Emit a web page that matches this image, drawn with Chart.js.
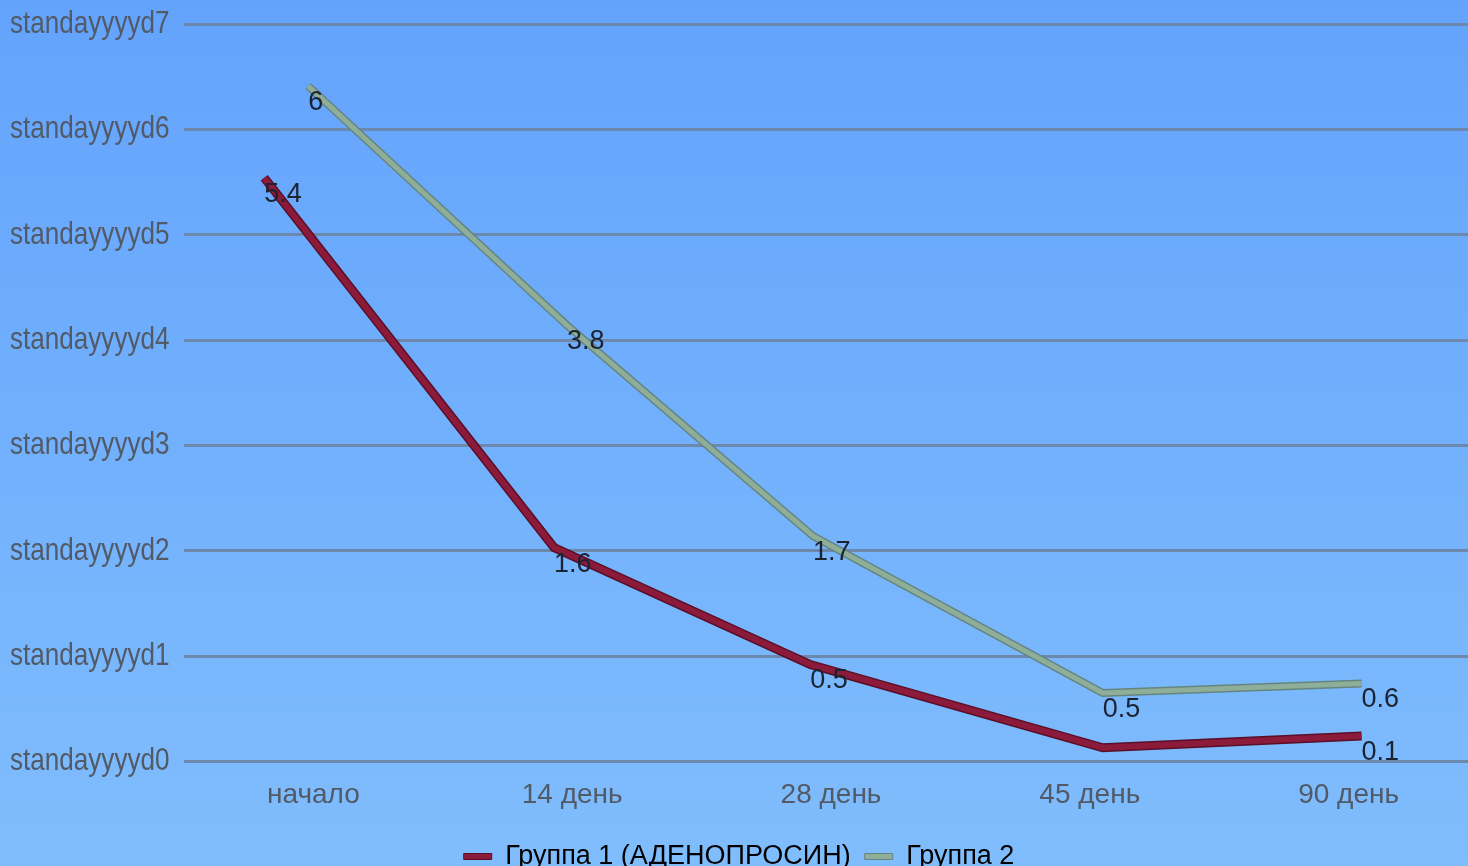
<!DOCTYPE html>
<html>
<head>
<meta charset="utf-8">
<script src="https://cdn.jsdelivr.net/npm/chart.js@4/dist/chart.umd.min.js"></script>
<style>
  html, body { margin: 0; padding: 0; overflow: hidden; background: #70b0fc; }
  #wrap { width: 1478px; height: 880px; position: relative; }
</style>
</head>
<body>
<div id="wrap"><canvas id="c" width="1478" height="880"></canvas></div>
<script>
// ---- data ----
const categories = ['начало', '14 день', '28 день', '45 день', '90 день'];
const seriesNames = ['Группа 1 (АДЕНОПРОСИН)', 'Группа 2'];
// x position of each point in category units (as drawn in the picture)
const group1X = [-0.19, 0.93, 1.92, 3.05, 4.05];
const group2X = [-0.02, 0.98, 1.93, 3.05, 4.05];
// plotted heights, as drawn
const group1Values = [5.54, 2.03, 0.92, 0.13, 0.24];
const group2Values = [6.41, 4.14, 2.14, 0.65, 0.74];
// printed data labels (the 45-day label of group 1 is not shown)
const group1Labels = ['5.4', '1.6', '0.5', '', '0.1'];
const group2Labels = ['6', '3.8', '1.7', '0.5', '0.6'];
const yTickValues = [0, 1, 2, 3, 4, 5, 6, 7];
const yTickPrefix = 'standayyyyd';

const SANS = '"Liberation Sans", Arial, sans-serif';
const outlineColors = ['#5a0f26', '#66857f'];
const outlineWidths = [9, 8];

const bgPlugin = {
  id: 'bg',
  beforeDraw(chart) {
    const ctx = chart.ctx;
    const g = ctx.createLinearGradient(0, 0, 0, 866);
    g.addColorStop(0, '#63a3fc');
    g.addColorStop(1, '#80bdfd');
    ctx.save();
    ctx.fillStyle = g;
    ctx.fillRect(0, 0, chart.width, chart.height);
    ctx.restore();
  }
};

// dark outline under each line, following the library's point elements
const outlinePlugin = {
  id: 'outline',
  beforeDatasetDraw(chart, args) {
    const meta = args.meta;
    const i = args.index;
    const ctx = chart.ctx;
    ctx.save();
    ctx.strokeStyle = outlineColors[i];
    ctx.lineWidth = outlineWidths[i];
    ctx.lineJoin = 'miter';
    ctx.lineCap = 'butt';
    ctx.beginPath();
    meta.data.forEach((pt, k) => { if (k === 0) ctx.moveTo(pt.x, pt.y); else ctx.lineTo(pt.x, pt.y); });
    ctx.stroke();
    ctx.restore();
  }
};

// condensed y-axis tick labels (the picture uses a narrow face)
const yLabelPlugin = {
  id: 'yLabels',
  afterDraw(chart) {
    const ctx = chart.ctx;
    const ys = chart.scales.y;
    ctx.save();
    ctx.font = '32px ' + SANS;
    ctx.fillStyle = '#515a66';
    ctx.textAlign = 'left';
    ctx.textBaseline = 'middle';
    yTickValues.forEach(v => {
      const py = ys.getPixelForValue(v);
      ctx.save();
      ctx.translate(10, py);
      ctx.scale(0.815, 1);
      ctx.fillText(yTickPrefix + v, 0, 0);
      ctx.restore();
    });
    ctx.restore();
  }
};

const labelPlugin = {
  id: 'dataLabels',
  afterDatasetsDraw(chart) {
    const ctx = chart.ctx;
    const allLabels = [group1Labels, group2Labels];
    ctx.save();
    ctx.font = '27px ' + SANS;
    ctx.fillStyle = '#1c2330';
    ctx.textAlign = 'left';
    ctx.textBaseline = 'top';
    chart.data.datasets.forEach((ds, di) => {
      const meta = chart.getDatasetMeta(di);
      meta.data.forEach((pt, i) => {
        const t = allLabels[di][i];
        if (t) ctx.fillText(t, pt.x, pt.y + 3);
      });
    });
    ctx.restore();
  }
};

function toPoints(xs, ys) { return xs.map((x, i) => ({ x: x, y: ys[i] })); }

new Chart(document.getElementById('c'), {
  type: 'line',
  data: {
    datasets: [
      {
        label: seriesNames[0],
        data: toPoints(group1X, group1Values),
        borderColor: '#8c1a3b',
        backgroundColor: '#8c1a3b',
        borderWidth: 6,
        pointRadius: 0,
        tension: 0,
        borderCapStyle: 'butt'
      },
      {
        label: seriesNames[1],
        data: toPoints(group2X, group2Values),
        borderColor: '#8eae9a',
        backgroundColor: '#8eae9a',
        borderWidth: 5,
        pointRadius: 0,
        tension: 0,
        borderCapStyle: 'butt'
      }
    ]
  },
  options: {
    responsive: false,
    animation: false,
    layout: { padding: { left: 0, right: 0, top: 24, bottom: 0 } },
    plugins: {
      legend: {
        position: 'bottom',
        labels: {
          color: '#2a303a',
          font: { family: SANS, size: 27 },
          boxWidth: 28,
          boxHeight: 6,
          padding: 14,
          generateLabels(chart) {
            return chart.data.datasets.map((ds, i) => ({
              text: ds.label,
              fillStyle: ds.borderColor,
              strokeStyle: outlineColors[i],
              lineWidth: 1,
              datasetIndex: i,
              hidden: false
            }));
          }
        }
      },
      tooltip: { enabled: false }
    },
    scales: {
      x: {
        type: 'linear',
        min: -0.5,
        max: 4.5,
        afterBuildTicks(axis) { axis.ticks = categories.map((c, i) => ({ value: i })); },
        ticks: {
          color: '#515a66',
          font: { family: SANS, size: 28 },
          padding: 17,
          maxRotation: 0,
          callback(v) { return categories[v]; }
        },
        grid: { display: false, drawTicks: false },
        border: { display: false }
      },
      y: {
        min: 0,
        max: 7,
        afterBuildTicks(axis) { axis.ticks = yTickValues.map(v => ({ value: v })); },
        afterFit(axis) { axis.width = 184; },
        ticks: { display: false },
        grid: { color: '#6d88ad', lineWidth: 3, drawTicks: false },
        border: { display: false }
      }
    }
  },
  plugins: [bgPlugin, outlinePlugin, yLabelPlugin, labelPlugin]
});
</script>
</body>
</html>
